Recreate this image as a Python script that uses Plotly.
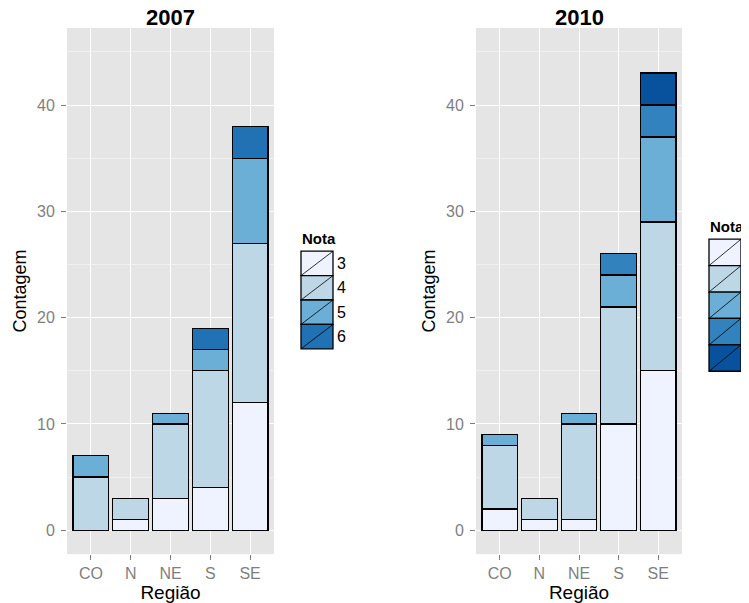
import plotly.graph_objects as go

# categorias
regioes = ['CO', 'N', 'NE', 'S', 'SE']

# 2007: contagem por nota em cada região
notas_2007 = ['3', '4', '5', '6']
n3_2007 = [0, 1, 3, 4, 12]
n4_2007 = [5, 2, 7, 11, 15]
n5_2007 = [2, 0, 1, 2, 8]
n6_2007 = [0, 0, 0, 2, 3]

# 2010
notas_2010 = ['3', '4', '5', '6', '7']
n3_2010 = [2, 1, 1, 10, 15]
n4_2010 = [6, 2, 9, 11, 14]
n5_2010 = [1, 0, 1, 3, 8]
n6_2010 = [0, 0, 0, 2, 3]
n7_2010 = [0, 0, 0, 0, 3]

# brewer Blues
cores_2007 = ['#EFF3FF', '#BDD7E7', '#6BAED6', '#2171B5']
cores_2010 = ['#EFF3FF', '#BDD7E7', '#6BAED6', '#3182BD', '#08519C']

# the page body has an 8px margin, so the figure is drawn a bit smaller and shifted
OFF = 8
W, H = 749 - OFF, 603 - OFF
FONT = 'Liberation Sans, Arial, sans-serif'
GREY = '#7F7F7F'


def fx(p):
    return (p - OFF) / W


def fy(p):
    return 1 - (p - OFF) / H


paineis = [
    # (ano, notas, series, cores, eixo, left px, right px, legenda x px, legenda y px, altura chave)
    ('2007', notas_2007, [n3_2007, n4_2007, n5_2007, n6_2007], cores_2007, '', 67, 274, 301, 252, 24.5),
    ('2010', notas_2010, [n3_2010, n4_2010, n5_2010, n6_2010, n7_2010], cores_2010, '2', 476, 682, 709, 240, 26.5),
]

fig = go.Figure()
shapes, annotations = [], []
top_px, bot_px = 28, 556

for ano, notas, series, cores, ax, x0, x1, lx, ly, kh in paineis:
    for nota, vals, cor in zip(notas, series, cores):
        fig.add_trace(go.Bar(
            x=regioes, y=[v if v else None for v in vals],
            name=nota, marker=dict(color=cor, line=dict(color='black', width=1.3)),
            xaxis='x' + ax, yaxis='y' + ax, showlegend=False,
        ))

    axis_common = dict(
        ticks='outside', ticklen=5, tickwidth=1, tickcolor=GREY,
        tickfont=dict(size=16, color=GREY, family=FONT),
        showgrid=True, gridcolor='white', gridwidth=1.3, zeroline=False,
        showline=False,
    )
    fig.update_layout(**{
        'xaxis' + ax: dict(axis_common, domain=[fx(x0), fx(x1)], anchor='y' + ax,
                           type='category', categoryorder='array', categoryarray=regioes,
                           range=[-0.6, 4.6],
                           title=dict(text='Região', font=dict(size=19, color='black', family=FONT), standoff=7)),
        'yaxis' + ax: dict(axis_common, domain=[fy(bot_px), fy(top_px)], anchor='x' + ax,
                           range=[-2.25, 47.25], tick0=0, dtick=10, ticklabelstandoff=3,
                           minor=dict(tick0=0, dtick=5, showgrid=True, gridcolor='#F0F0F0', gridwidth=0.7, ticks=''),
                           title=dict(text='Contagem', font=dict(size=18, color='black', family=FONT), standoff=5)),
    })

    # título do painel
    annotations.append(dict(text='<b>' + ano + '</b>', x=(fx(x0) + fx(x1)) / 2, y=fy(18),
                            xref='paper', yref='paper', xanchor='center', yanchor='middle',
                            showarrow=False, font=dict(size=22, color='black', family=FONT)))

    # legenda desenhada à mão (estilo ggplot)
    annotations.append(dict(text='<b>Nota</b>', x=fx(lx - 1), y=fy(ly - 2), xref='paper', yref='paper',
                            xanchor='left', yanchor='bottom', showarrow=False,
                            font=dict(size=15, color='black', family=FONT)))
    kw = 32
    for i, (nota, cor) in enumerate(zip(notas, cores)):
        k0 = ly + i * kh
        shapes.append(dict(type='rect', xref='paper', yref='paper',
                           x0=fx(lx), x1=fx(lx + kw), y0=fy(k0 + kh), y1=fy(k0),
                           fillcolor=cor, line=dict(color='black', width=1.3)))
        shapes.append(dict(type='line', xref='paper', yref='paper',
                           x0=fx(lx), x1=fx(lx + kw), y0=fy(k0 + kh), y1=fy(k0),
                           line=dict(color='black', width=0.8)))
        annotations.append(dict(text=nota, x=fx(lx + kw + 2), y=fy(k0 + kh / 2), xref='paper', yref='paper',
                                xanchor='left', yanchor='middle', showarrow=False,
                                font=dict(size=16, color='black', family=FONT)))

fig.update_layout(
    width=W, height=H,
    margin=dict(l=0, r=0, t=0, b=0),
    paper_bgcolor='white', plot_bgcolor='#E5E5E5',
    barmode='stack', bargap=0.1,
    font=dict(family=FONT),
    shapes=shapes, annotations=annotations,
)

fig.write_html('out.html')
